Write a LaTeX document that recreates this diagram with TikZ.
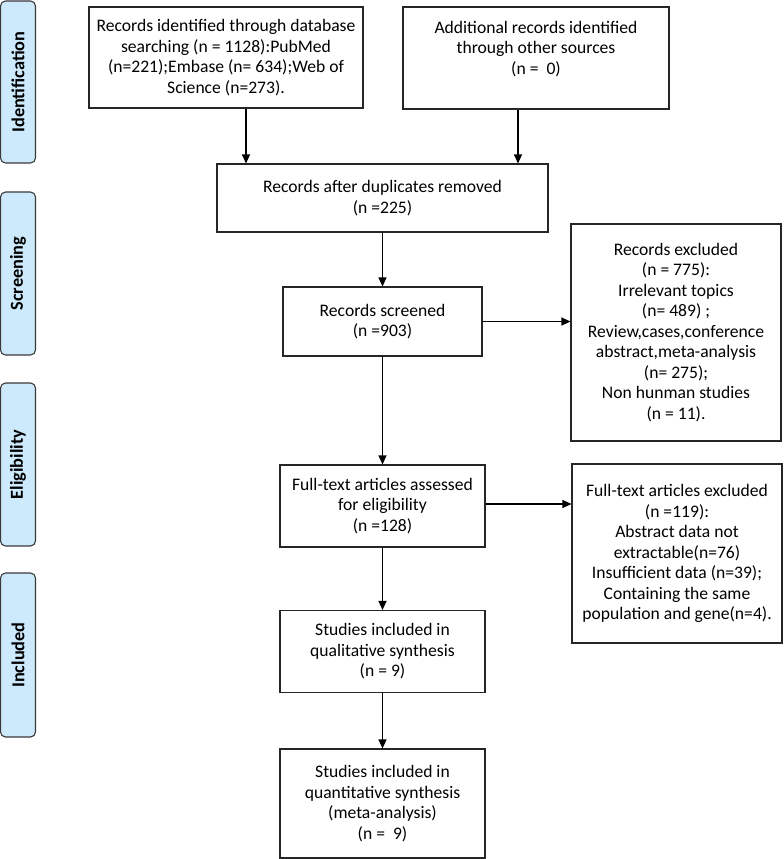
\documentclass[tikz,border=0pt]{standalone}
\usepackage{fontspec}
\setmainfont{Carlito}
\usetikzlibrary{arrows.meta}
\definecolor{sidefill}{HTML}{CDE9FC}
\definecolor{sidedraw}{HTML}{3A3A3A}
\begin{document}
\begin{tikzpicture}[x=1pt,y=-1pt,
  box/.style={draw=black!85,line width=1.1pt,rectangle,inner sep=0pt,align=center,
    font=\fontsize{17.6}{20.5}\selectfont},
  side/.style={draw=sidedraw,fill=sidefill,line width=1.1pt,rounded corners=5pt,
    inner sep=0pt,minimum width=35pt},
  sidetext/.style={rotate=90,font=\fontsize{18.3}{20}\selectfont\bfseries},
  arr/.style={line width=1.1pt,-{Triangle[length=9pt,width=8pt]}}]
\useasboundingbox (0,0) rectangle (784,859);
% side labels
\node[side,minimum height=162pt] (sid) at (18,82) {};
\node[sidetext] (sidt) at (sid.center) {Identification};
\node[side,minimum height=163pt] (sscr) at (18,273.5) {};
\node[sidetext] (sscrt) at (sscr.center) {Screening};
\node[side,minimum height=163pt] (sel) at (18,464.5) {};
\node[sidetext] (selt) at (sel.center) {Eligibility};
\node[side,minimum height=164pt] (sinc) at (18,655) {};
\node[sidetext] (sinct) at (sinc.center) {Included};
% main boxes
\node[box,minimum width=274pt,minimum height=101pt] (A) at (226,57.5)
  {Records identified through database\\searching (n = 1128):PubMed\\(n=221);Embase (n= 634);Web of\\Science (n=273).};
\node[box,minimum width=266pt,minimum height=102pt] (B) at (536,58)
  {Additional records identified\\through other sources\\(n =\ \ 0)\\ \mbox{}};
\node[box,minimum width=331pt,minimum height=68pt] (C) at (382.5,198)
  {Records after duplicates removed\\(n =225)};
\node[box,minimum width=199pt,minimum height=69pt] (D) at (382.5,321.5)
  {Records screened\\(n =903)};
\node[box,minimum width=210pt,minimum height=217pt] (E) at (676,332.5)
  {Records excluded\\(n = 775):\\Irrelevant topics\\(n= 489) ;\\Review,cases,conference\\abstract,meta-analysis\\(n= 275);\\Non hunman studies\\(n = 11).};
\node[box,minimum width=205pt,minimum height=82pt] (F) at (382.5,506)
  {Full-text articles assessed\\for eligibility\\(n =128)};
\node[box,minimum width=210pt,minimum height=179pt] (G) at (677,553.5)
  {Full-text articles excluded\\(n =119):\\Abstract data not\\extractable(n=76)\\Insufficient data (n=39);\\Containing the same\\population and gene(n=4).};
\node[box,minimum width=205pt,minimum height=82pt] (H) at (382.5,651.5)
  {Studies included in\\qualitative synthesis\\(n = 9)};
\node[box,minimum width=205pt,minimum height=109pt] (I) at (382.5,803.5)
  {Studies included in\\quantitative synthesis\\(meta-analysis)\\(n =\ \ 9)};
% connectors
\draw[arr] ([xshift=20pt]A.south) -- ([xshift=20pt]A.south |- C.north);
\draw[arr] ([xshift=-18pt]B.south) -- ([xshift=-18pt]B.south |- C.north);
\draw[arr] (C.south) -- (D.north);
\draw[arr] (D.east) -- (D.east -| E.west);
\draw[arr] (D.south) -- (F.north);
\draw[arr] ([yshift=2pt]F.east) -- ([yshift=2pt]F.east -| G.west);
\draw[arr] (F.south) -- (H.north);
\draw[arr] (H.south) -- (I.north);
\end{tikzpicture}
\end{document}
